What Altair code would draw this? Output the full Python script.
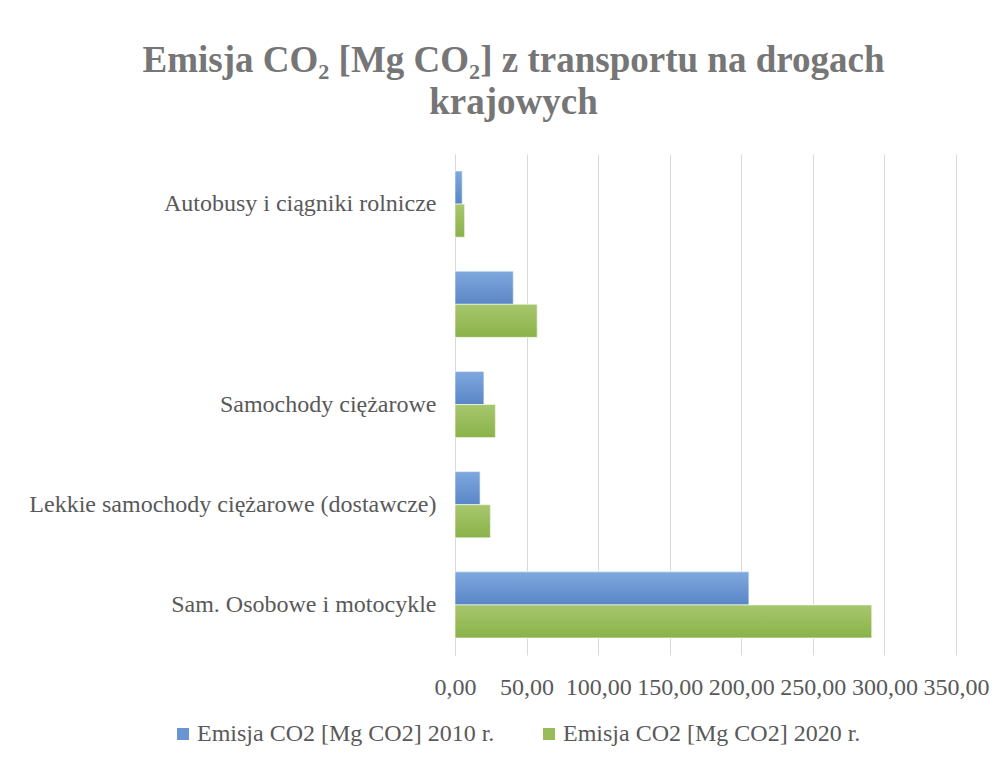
import altair as alt
import pandas as pd

categories = [
    "Autobusy i ciągniki rolnicze",
    " ",
    "Samochody ciężarowe",
    "Lekkie samochody ciężarowe (dostawcze)",
    "Sam. Osobowe i motocykle",
]
series = ["Emisja CO2 [Mg CO2] 2010 r.", "Emisja CO2 [Mg CO2] 2020 r."]
values_2010 = [5.0, 40.7, 20.2, 17.5, 205.3]
values_2020 = [6.7, 57.4, 28.2, 24.7, 291.1]
x_ticks = [0, 50, 100, 150, 200, 250, 300, 350]
colors = ["#6a95d2", "#98bc58"]
grad_blue = ["#7ea8de", "#5a86c6"]
grad_green = ["#a7c76d", "#8ab249"]

rows = []
for c, v1, v2 in zip(categories, values_2010, values_2020):
    rows.append({"kategoria": c, "seria": series[0], "wartosc": v1})
    rows.append({"kategoria": c, "seria": series[1], "wartosc": v2})
df = pd.DataFrame(rows)

FONT = "Liberation Serif"
GRAY = "#595959"

x_enc = alt.X(
    "wartosc:Q",
    scale=alt.Scale(domain=[0, 350], nice=False),
    axis=alt.Axis(
        values=x_ticks,
        title=None,
        labelExpr="replace(format(datum.value, '.2f'), '.', ',')",
        labelOverlap=False,
        labelFlush=False,
        domain=False,
        ticks=False,
        grid=True,
        gridColor="#d9d9d9",
        labelPadding=20,
    ),
)
y_enc = alt.Y(
    "kategoria:N",
    sort=categories,
    scale=alt.Scale(paddingInner=0.34, paddingOuter=0.17),
    axis=alt.Axis(
        title=None,
        ticks=False,
        domain=True,
        domainColor="#d9d9d9",
        labelPadding=19,
        labelLimit=600,
    ),
)
yoff_enc = alt.YOffset("seria:N", sort=series, scale=alt.Scale(domain=series, paddingInner=0, paddingOuter=0))


def grad(stops):
    return alt.Gradient(
        gradient="linear",
        stops=[alt.GradientStop(offset=0, color=stops[0]), alt.GradientStop(offset=1, color=stops[1])],
        x1=0, x2=0, y1=0, y2=1,
    )


base = alt.Chart(df).mark_bar(stroke="white", strokeWidth=0.6).encode(
    x=x_enc,
    y=y_enc,
    yOffset=yoff_enc,
    color=alt.Color(
        "seria:N",
        sort=series,
        scale=alt.Scale(domain=series, range=colors),
        legend=alt.Legend(
            title=None,
            orient="none",
            legendX=-284,
            legendY=568,
            direction="horizontal",
            columns=2,
            columnPadding=42,
            symbolType="square",
            symbolSize=144,
            symbolStrokeWidth=0,
            labelOffset=2,
            labelLimit=600,
            labelFontSize=24,
        ),
    ),
)

over_2010 = (
    alt.Chart(df)
    .transform_filter(alt.datum.seria == series[0])
    .mark_bar(fill=grad(grad_blue), stroke="white", strokeWidth=0.6)
    .encode(x=x_enc, y=y_enc, yOffset=yoff_enc)
)
over_2020 = (
    alt.Chart(df)
    .transform_filter(alt.datum.seria == series[1])
    .mark_bar(fill=grad(grad_green), stroke="white", strokeWidth=0.6)
    .encode(x=x_enc, y=y_enc, yOffset=yoff_enc)
)

chart = (
    alt.layer(base, over_2010, over_2020)
    .properties(
        width=501,
        height=501,
        title=alt.Title(
            ["Emisja CO₂ [Mg CO₂] z transportu na drogach", "krajowych"],
            font=FONT,
            fontSize=37,
            fontWeight="bold",
            color="#767676",
            anchor="middle",
            frame="group",
            offset=32,
            lineHeight=42,
            dx=-192,
        ),
        padding={"left": 20, "top": 34, "right": 4, "bottom": 4},
    )
    .configure(font=FONT)
    .configure_axis(labelFont=FONT, labelFontSize=24, labelColor=GRAY)
    .configure_legend(labelFont=FONT, labelColor=GRAY)
    .configure_view(stroke=None)
)

chart.save("out.html", embed_options={"renderer": "svg", "actions": False})
